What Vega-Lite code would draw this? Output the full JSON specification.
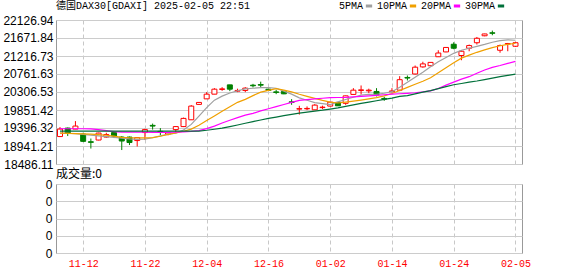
{
  "$schema": "https://vega.github.io/schema/vega-lite/v6.json",
  "background": "white",
  "padding": {"left": 2, "top": 0, "right": 4, "bottom": 2},
  "spacing": 20,
  "bounds": "flush",
  "datasets": {
    "k": [
      {"d":"2024-11-07","o":19180,"h":19420,"l":19167,"c":19369,"ma5":19268,"ma10":19268,"ma20":19377,"ma30":19319,"vol":0},
      {"d":"2024-11-08","o":19394,"h":19407,"l":19193,"c":19261,"ma5":19263,"ma10":19261,"ma20":19377,"ma30":19319,"vol":0},
      {"d":"2024-11-11","o":19369,"h":19571,"l":19369,"c":19445,"ma5":19251,"ma10":19256,"ma20":19377,"ma30":19319,"vol":0},
      {"d":"2024-11-12","o":19243,"h":19276,"l":19041,"c":19059,"ma5":19236,"ma10":19248,"ma20":19377,"ma30":19319,"vol":0},
      {"d":"2024-11-13","o":19049,"h":19129,"l":18877,"c":19034,"ma5":19215,"ma10":19241,"ma20":19374,"ma30":19319,"vol":0},
      {"d":"2024-11-14","o":19092,"h":19276,"l":19084,"c":19268,"ma5":19195,"ma10":19228,"ma20":19357,"ma30":19319,"vol":0},
      {"d":"2024-11-15","o":19167,"h":19276,"l":19150,"c":19231,"ma5":19178,"ma10":19213,"ma20":19331,"ma30":19319,"vol":0},
      {"d":"2024-11-18","o":19281,"h":19306,"l":19142,"c":19193,"ma5":19157,"ma10":19190,"ma20":19306,"ma30":19319,"vol":0},
      {"d":"2024-11-19","o":19167,"h":19193,"l":18839,"c":19067,"ma5":19140,"ma10":19160,"ma20":19294,"ma30":19319,"vol":0},
      {"d":"2024-11-20","o":19167,"h":19180,"l":18965,"c":19029,"ma5":19122,"ma10":19150,"ma20":19294,"ma30":19319,"vol":0},
      {"d":"2024-11-21","o":19079,"h":19167,"l":18928,"c":19155,"ma5":19109,"ma10":19145,"ma20":19294,"ma30":19319,"vol":0},
      {"d":"2024-11-22","o":19281,"h":19377,"l":19092,"c":19356,"ma5":19117,"ma10":19147,"ma20":19289,"ma30":19319,"vol":0},
      {"d":"2024-11-25","o":19463,"h":19508,"l":19356,"c":19445,"ma5":19150,"ma10":19152,"ma20":19286,"ma30":19319,"vol":0},
      {"d":"2024-11-26","o":19311,"h":19394,"l":19218,"c":19293,"ma5":19198,"ma10":19188,"ma20":19286,"ma30":19319,"vol":0},
      {"d":"2024-11-27","o":19243,"h":19281,"l":19210,"c":19281,"ma5":19243,"ma10":19231,"ma20":19286,"ma30":19319,"vol":0},
      {"d":"2024-11-28","o":19356,"h":19445,"l":19293,"c":19432,"ma5":19268,"ma10":19273,"ma20":19289,"ma30":19319,"vol":0},
      {"d":"2024-11-29","o":19432,"h":19659,"l":19420,"c":19639,"ma5":19344,"ma10":19314,"ma20":19299,"ma30":19319,"vol":0},
      {"d":"2024-12-02","o":19604,"h":19975,"l":19604,"c":19950,"ma5":19488,"ma10":19367,"ma20":19311,"ma30":19319,"vol":0},
      {"d":"2024-12-03","o":19993,"h":20051,"l":19987,"c":20043,"ma5":19697,"ma10":19465,"ma20":19331,"ma30":19319,"vol":0},
      {"d":"2024-12-04","o":20133,"h":20303,"l":20133,"c":20252,"ma5":19912,"ma10":19584,"ma20":19382,"ma30":19339,"vol":0},
      {"d":"2024-12-05","o":20252,"h":20404,"l":20252,"c":20378,"ma5":20101,"ma10":19702,"ma20":19445,"ma30":19364,"vol":0},
      {"d":"2024-12-06","o":20371,"h":20429,"l":20336,"c":20386,"ma5":20202,"ma10":19818,"ma20":19523,"ma30":19392,"vol":0},
      {"d":"2024-12-09","o":20487,"h":20487,"l":20328,"c":20378,"ma5":20280,"ma10":19934,"ma20":19591,"ma30":19432,"vol":0},
      {"d":"2024-12-10","o":20328,"h":20391,"l":20303,"c":20346,"ma5":20338,"ma10":20045,"ma20":19659,"ma30":19473,"vol":0},
      {"d":"2024-12-11","o":20346,"h":20429,"l":20303,"c":20404,"ma5":20384,"ma10":20121,"ma20":19723,"ma30":19516,"vol":0},
      {"d":"2024-12-12","o":20479,"h":20512,"l":20421,"c":20464,"ma5":20401,"ma10":20215,"ma20":19765,"ma30":19559,"vol":0},
      {"d":"2024-12-13","o":20495,"h":20568,"l":20421,"c":20479,"ma5":20416,"ma10":20303,"ma20":19829,"ma30":19599,"vol":0},
      {"d":"2024-12-16","o":20378,"h":20391,"l":20336,"c":20346,"ma5":20416,"ma10":20346,"ma20":19882,"ma30":19639,"vol":0},
      {"d":"2024-12-17","o":20310,"h":20361,"l":20252,"c":20295,"ma5":20401,"ma10":20391,"ma20":19937,"ma30":19672,"vol":0},
      {"d":"2024-12-18","o":20320,"h":20328,"l":20252,"c":20260,"ma5":20328,"ma10":20353,"ma20":19990,"ma30":19707,"vol":0},
      {"d":"2024-12-19","o":20058,"h":20126,"l":19982,"c":20043,"ma5":20252,"ma10":20308,"ma20":20043,"ma30":19740,"vol":0},
      {"d":"2024-12-20","o":19874,"h":19957,"l":19735,"c":19886,"ma5":20159,"ma10":20250,"ma20":20096,"ma30":19773,"vol":0},
      {"d":"2024-12-23","o":19881,"h":19942,"l":19849,"c":19891,"ma5":20098,"ma10":20197,"ma20":20114,"ma30":19798,"vol":0},
      {"d":"2024-12-27","o":19856,"h":20000,"l":19856,"c":19975,"ma5":20040,"ma10":20146,"ma20":20131,"ma30":19823,"vol":0},
      {"d":"2024-12-30","o":19912,"h":19962,"l":19874,"c":19924,"ma5":20013,"ma10":20096,"ma20":20149,"ma30":19846,"vol":0},
      {"d":"2025-01-02","o":19950,"h":20058,"l":19942,"c":20050,"ma5":19990,"ma10":20051,"ma20":20164,"ma30":19874,"vol":0},
      {"d":"2025-01-03","o":20043,"h":20051,"l":19957,"c":19957,"ma5":20058,"ma10":20028,"ma20":20167,"ma30":19904,"vol":0},
      {"d":"2025-01-06","o":20020,"h":20215,"l":19982,"c":20209,"ma5":20116,"ma10":20051,"ma20":20169,"ma30":19942,"vol":0},
      {"d":"2025-01-07","o":20245,"h":20404,"l":20235,"c":20353,"ma5":20174,"ma10":20076,"ma20":20182,"ma30":19980,"vol":0},
      {"d":"2025-01-08","o":20346,"h":20472,"l":20245,"c":20361,"ma5":20227,"ma10":20103,"ma20":20197,"ma30":20018,"vol":0},
      {"d":"2025-01-09","o":20336,"h":20391,"l":20278,"c":20353,"ma5":20245,"ma10":20134,"ma20":20209,"ma30":20051,"vol":0},
      {"d":"2025-01-10","o":20320,"h":20404,"l":20194,"c":20235,"ma5":20250,"ma10":20164,"ma20":20222,"ma30":20086,"vol":0},
      {"d":"2025-01-13","o":20144,"h":20184,"l":20083,"c":20126,"ma5":20275,"ma10":20209,"ma20":20237,"ma30":20119,"vol":0},
      {"d":"2025-01-14","o":20315,"h":20404,"l":20295,"c":20333,"ma5":20315,"ma10":20268,"ma20":20252,"ma30":20151,"vol":0},
      {"d":"2025-01-15","o":20353,"h":20707,"l":20328,"c":20618,"ma5":20424,"ma10":20346,"ma20":20262,"ma30":20194,"vol":0},
      {"d":"2025-01-16","o":20674,"h":20724,"l":20598,"c":20659,"ma5":20550,"ma10":20424,"ma20":20273,"ma30":20217,"vol":0},
      {"d":"2025-01-17","o":20762,"h":20976,"l":20749,"c":20934,"ma5":20681,"ma10":20502,"ma20":20288,"ma30":20260,"vol":0},
      {"d":"2025-01-20","o":20941,"h":21072,"l":20921,"c":21017,"ma5":20807,"ma10":20580,"ma20":20308,"ma30":20303,"vol":0},
      {"d":"2025-01-21","o":20971,"h":21060,"l":20971,"c":21055,"ma5":20944,"ma10":20666,"ma20":20336,"ma30":20341,"vol":0},
      {"d":"2025-01-22","o":21198,"h":21362,"l":21193,"c":21292,"ma5":21070,"ma10":20792,"ma20":20396,"ma30":20391,"vol":0},
      {"d":"2025-01-23","o":21320,"h":21438,"l":21312,"c":21433,"ma5":21178,"ma10":20918,"ma20":20479,"ma30":20444,"vol":0},
      {"d":"2025-01-24","o":21514,"h":21564,"l":21388,"c":21413,"ma5":21284,"ma10":21045,"ma20":20555,"ma30":20490,"vol":0},
      {"d":"2025-01-27","o":21229,"h":21362,"l":21110,"c":21337,"ma5":21362,"ma10":21163,"ma20":20631,"ma30":20522,"vol":0},
      {"d":"2025-01-28","o":21413,"h":21506,"l":21337,"c":21481,"ma5":21413,"ma10":21239,"ma20":20694,"ma30":20555,"vol":0},
      {"d":"2025-01-29","o":21552,"h":21698,"l":21506,"c":21665,"ma5":21461,"ma10":21310,"ma20":20782,"ma30":20585,"vol":0},
      {"d":"2025-01-30","o":21728,"h":21779,"l":21716,"c":21774,"ma5":21509,"ma10":21373,"ma20":20863,"ma30":20621,"vol":0},
      {"d":"2025-01-31","o":21804,"h":21859,"l":21741,"c":21791,"ma5":21564,"ma10":21428,"ma20":20929,"ma30":20659,"vol":0},
      {"d":"2025-02-03","o":21362,"h":21506,"l":21299,"c":21481,"ma5":21607,"ma10":21476,"ma20":20976,"ma30":20696,"vol":0},
      {"d":"2025-02-04","o":21519,"h":21547,"l":21337,"c":21531,"ma5":21625,"ma10":21509,"ma20":21029,"ma30":20727,"vol":0},
      {"d":"2025-02-05","o":21463,"h":21577,"l":21446,"c":21552,"ma5":21615,"ma10":21539,"ma20":21080,"ma30":20757,"vol":0}
    ]
  },
  "vconcat": [
    {
      "width": 466,
      "height": 144,
      "data": {"name": "k"},
      "title": {
        "text": "德国DAX30[GDAXI] 2025-02-05 22:51",
        "anchor": "start",
        "frame": "group",
        "font": "Liberation Mono, Noto Sans CJK SC",
        "fontSize": 10,
        "fontWeight": "normal",
        "color": "#000000",
        "offset": 5,
        "dy": 2
      },
      "encoding": {
        "x": {
          "field": "d",
          "type": "ordinal",
          "scale": {"type": "point", "padding": 0.68, "align": 0.38},
          "axis": {
            "values": ["2024-11-12","2024-11-22","2024-12-04","2024-12-16","2025-01-02","2025-01-14","2025-01-24","2025-02-05"],
            "labels": false,
            "ticks": false,
            "domain": false,
            "grid": true,
            "gridDash": [4, 3],
            "gridColor": "#c8c8c8",
            "title": null
          }
        }
      },
      "layer": [
        {
          "mark": {"type": "rule", "strokeWidth": 1},
          "encoding": {
            "y": {
              "field": "l",
              "type": "quantitative",
              "scale": {"domain": [18486.11, 22126.94], "nice": false, "zero": false},
              "axis": {
                "values": [18486.11, 18941.21, 19396.32, 19851.42, 20306.53, 20761.63, 21216.73, 21671.84, 22126.94],
                "tickCount": 20,
                "format": ".2f",
                "labelFont": "Liberation Sans",
                "labelFontSize": 12,
                "labelColor": "#000000",
                "labelPadding": 3,
                "labelOverlap": false,
                "ticks": false,
                "domain": false,
                "grid": true,
                "gridColor": "#cccccc",
                "title": null
              }
            },
            "y2": {"field": "h"},
            "color": {"condition": {"test": "datum.c >= datum.o", "value": "#ff0000"}, "value": "#008000"}
          }
        },
        {
          "mark": {"type": "bar", "width": 5, "strokeWidth": 1},
          "encoding": {
            "y": {"field": "o", "type": "quantitative"},
            "y2": {"field": "c"},
            "fill": {"condition": {"test": "datum.c >= datum.o", "value": "#ffffff"}, "value": "#008000"},
            "stroke": {"condition": {"test": "datum.c >= datum.o", "value": "#ff0000"}, "value": "#008000"}
          }
        },
        {
          "transform": [{"fold": ["ma5", "ma10", "ma20", "ma30"], "as": ["k", "v"]}],
          "mark": {"type": "line", "strokeWidth": 1.2},
          "encoding": {
            "y": {"field": "v", "type": "quantitative"},
            "color": {
              "field": "k",
              "type": "nominal",
              "scale": {"domain": ["ma5", "ma10", "ma20", "ma30"], "range": ["#a0a0a0", "#f0a000", "#ff00ff", "#00703a"]},
              "legend": {
                "orient": "none",
                "legendX": 308,
                "legendY": -19,
                "direction": "horizontal",
                "title": null,
                "symbolType": "stroke",
                "symbolStrokeWidth": 3,
                "symbolSize": 40,
                "labelFont": "Liberation Mono",
                "labelFontSize": 10,
                "labelColor": "#000000",
                "labelAlign": "right",
                "labelOffset": -11,
                "columnPadding": -3,
                "labelExpr": "{'ma5':'5PMA','ma10':'10PMA','ma20':'20PMA','ma30':'30PMA'}[datum.value]"
              }
            }
          }
        }
      ]
    },
    {
      "width": 466,
      "height": 69,
      "data": {"name": "k"},
      "title": {
        "text": "成交量:0",
        "anchor": "start",
        "frame": "group",
        "font": "Noto Sans CJK SC",
        "fontSize": 12,
        "fontWeight": "normal",
        "color": "#000000",
        "offset": 2,
        "dy": 5
      },
      "mark": {"type": "bar", "width": 5, "color": "#ff0000"},
      "encoding": {
        "x": {
          "field": "d",
          "type": "ordinal",
          "scale": {"type": "point", "padding": 0.68, "align": 0.38},
          "axis": {
            "values": ["2024-11-12","2024-11-22","2024-12-04","2024-12-16","2025-01-02","2025-01-14","2025-01-24","2025-02-05"],
            "labelExpr": "substring(datum.value, 5, 10)",
            "labelAngle": 0,
            "labelFont": "Liberation Mono",
            "labelFontSize": 10,
            "labelColor": "#ff0000",
            "labelPadding": 5,
            "ticks": false,
            "domain": false,
            "grid": true,
            "gridDash": [4, 3],
            "gridColor": "#c8c8c8",
            "title": null
          }
        },
        "y": {
          "field": "vol",
          "type": "quantitative",
          "scale": {"domain": [0, 4], "nice": false},
          "axis": {
            "values": [0, 1, 2, 3, 4],
            "tickCount": 20,
            "labelExpr": "'0'",
            "labelFont": "Liberation Sans",
            "labelFontSize": 12,
            "labelColor": "#000000",
            "labelPadding": 4,
            "labelOverlap": false,
            "ticks": false,
            "domain": false,
            "grid": true,
            "gridColor": "#cccccc",
            "title": null
          }
        }
      }
    }
  ],
  "config": {
    "view": {"stroke": "#999999", "strokeWidth": 1}
  }
}
